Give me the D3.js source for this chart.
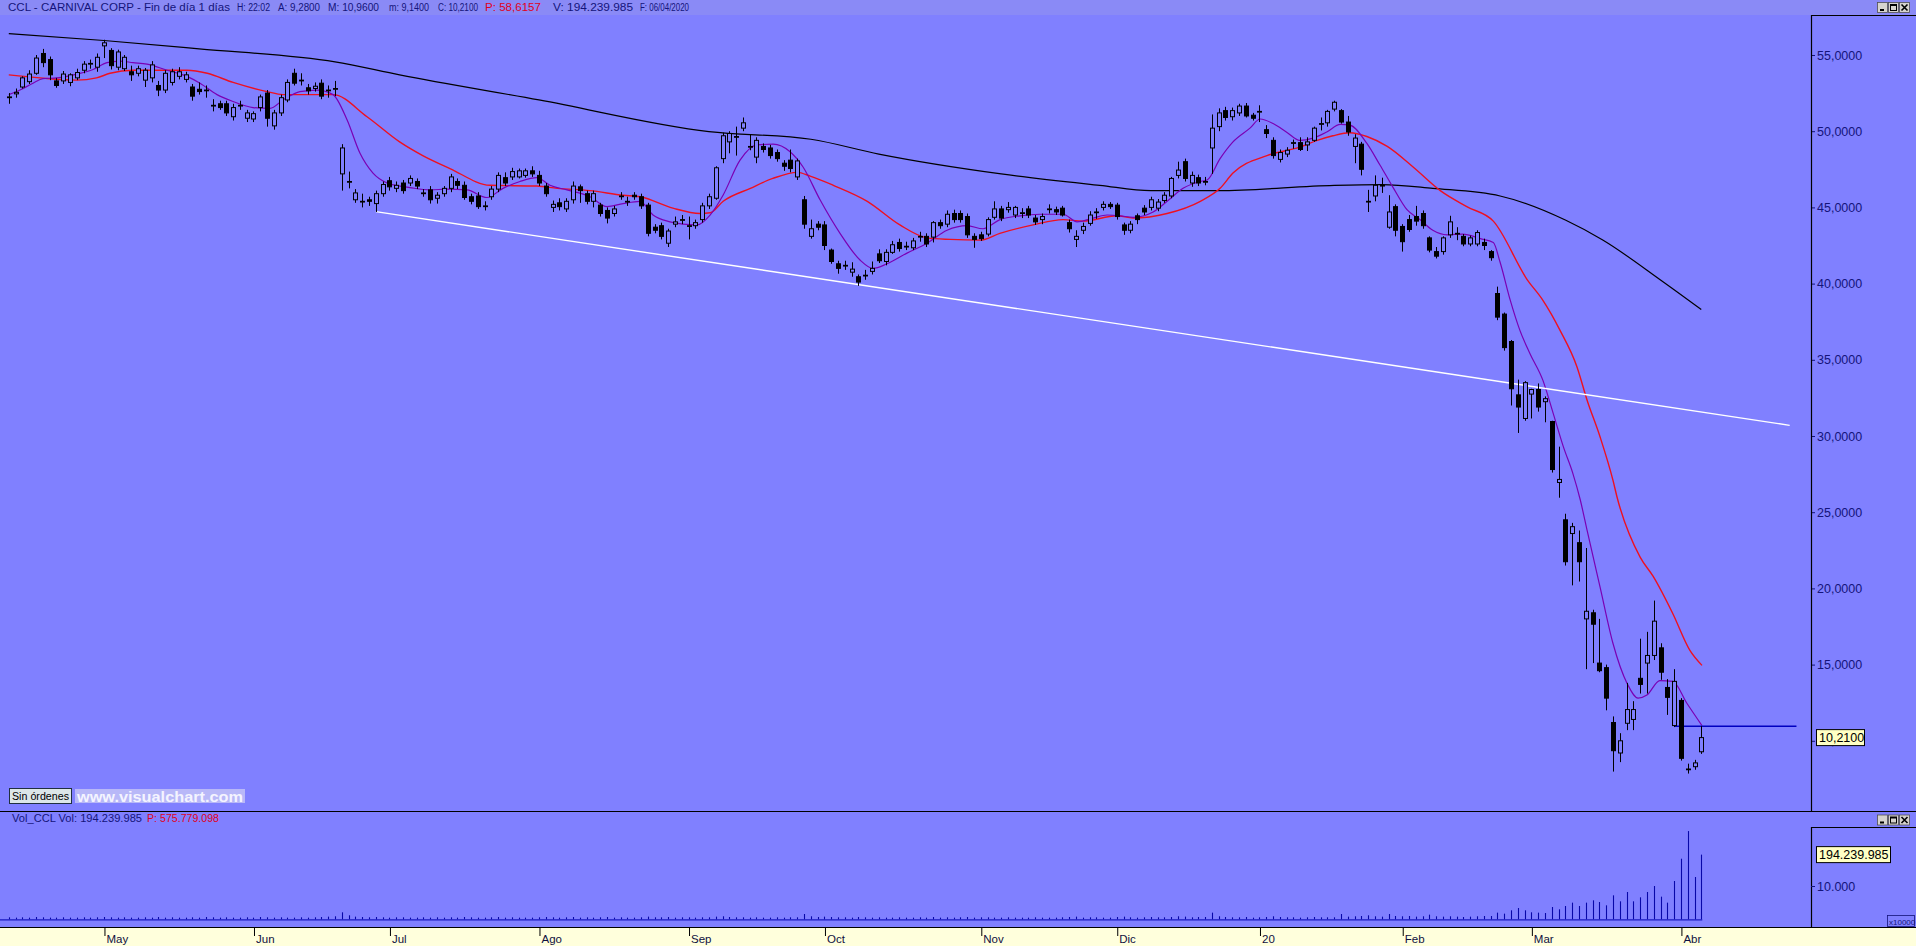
<!DOCTYPE html>
<html><head><meta charset="utf-8">
<script src="https://cdn.jsdelivr.net/npm/d3@7"></script>
<style>
html,body{margin:0;padding:0;background:#8080ff;overflow:hidden}
svg{display:block}
text{font-family:Arial,"Liberation Sans",sans-serif}
</style></head><body>
<svg id="c" width="1916" height="946"></svg>
<script>
// ---------- DATA ----------
const monthLabels = ["May","Jun","Jul","Ago","Sep","Oct","Nov","Dic","20","Feb","Mar","Abr"];
const monthStart  = [14,36,56,78,100,120,143,163,184,205,224,246];
const priceTicks  = [55,50,45,40,35,30,25,20,15,10];
const volTicks = [100];
const volTickLabels = ["10.000"];

const open = [
52.2,52.45,52.9,53.25,53.8,55.1,54.7,53.3,53.3,53.2,
53.5,54.0,54.4,54.2,55.6,55.3,54.2,54.1,53.9,53.8,
53.35,53.5,53.0,52.7,53.2,53.6,53.4,52.9,52.75,52.65,
51.65,51.8,51.8,50.95,51.65,50.85,50.8,51.55,52.5,50.35,
51.2,52.05,53.8,53.3,52.85,52.8,53.15,52.65,52.75,47.2,
46.65,45.5,45.35,45.5,45.25,45.9,46.75,46.25,46.6,46.6,
46.7,45.9,46.15,45.6,45.9,46.25,46.7,46.45,45.7,45.75,
45.05,45.7,46.2,46.95,47.0,47.0,47.1,47.4,47.1,46.4,
45.0,45.3,44.9,45.5,46.35,45.9,45.4,45.15,44.8,44.6,
45.7,45.35,45.8,45.7,45.15,43.7,43.8,42.65,43.9,44.15,
43.75,43.8,44.2,45.1,45.6,48.2,49.3,49.6,50.2,48.95,
48.3,49.0,48.9,48.6,47.9,48.1,47.0,45.5,43.1,43.9,
43.85,42.2,41.3,41.15,40.75,40.45,40.5,40.8,41.95,41.45,
42.05,42.7,42.4,42.35,43.05,43.1,43.05,44.0,43.9,44.6,
44.6,44.4,43.1,43.2,43.25,44.35,44.9,44.85,44.5,44.6,
44.9,44.3,44.2,44.85,44.85,44.95,44.0,42.9,43.5,43.95,
44.65,45.0,45.2,45.15,43.85,43.5,44.45,44.95,45.0,44.95,
45.45,45.75,47.1,48.0,46.6,46.95,46.65,48.9,50.3,51.35,
50.95,51.2,51.65,51.05,51.25,50.1,49.4,48.15,48.5,49.2,
49.25,49.1,49.4,50.45,50.55,51.45,51.35,50.6,49.0,49.15,
45.35,45.75,46.4,43.7,45.05,43.75,44.2,44.4,44.6,43.0,
42.1,42.1,43.2,43.25,43.1,42.6,42.6,42.7,42.1,39.35,
38.0,36.2,32.7,31.15,32.75,33.05,32.25,30.95,26.95,24.5,
23.6,23.0,18.0,18.4,15.1,14.8,11.2,9.2,11.15,11.4,
14.1,15.1,15.6,16.1,13.5,11.0,12.65,8.1,8.3,9.28
];
const high = [
52.5,52.8,53.6,54.0,55.0,55.4,54.9,53.5,53.95,53.8,
54.1,54.6,54.7,55.1,56.0,55.45,55.35,55.0,54.3,54.3,
54.15,54.6,53.3,54.0,54.1,54.2,53.9,53.1,53.2,53.0,
52.1,52.0,52.0,51.8,52.0,51.4,51.3,52.4,52.7,51.4,
52.4,53.4,54.1,53.8,53.1,53.2,53.4,53.0,53.3,49.15,
47.35,46.2,45.9,45.7,46.1,46.7,47.0,46.7,46.8,47.1,
46.9,46.2,46.4,46.0,46.4,47.2,46.9,46.7,45.9,46.0,
45.4,46.4,47.3,47.3,47.6,47.55,47.55,47.7,47.4,46.6,
45.45,45.6,45.6,46.7,46.5,46.1,46.1,45.3,45.0,45.1,
46.0,45.7,46.0,45.9,45.3,43.9,44.0,43.6,44.4,44.5,
44.4,44.2,45.3,45.9,47.7,49.9,50.0,50.3,50.9,49.75,
49.6,49.2,49.1,48.8,48.1,48.8,48.2,45.75,44.2,44.1,
44.1,42.3,41.5,41.5,41.4,40.6,40.9,41.45,42.25,42.25,
42.8,42.95,42.75,43.0,43.4,43.3,44.1,44.2,44.8,44.85,
44.8,44.6,43.3,43.4,44.35,45.4,45.1,45.35,45.1,44.95,
45.1,44.5,44.6,45.2,45.05,45.1,44.2,43.5,44.0,44.75,
44.95,45.4,45.35,45.3,44.0,44.1,44.6,45.15,45.7,45.55,
46.0,47.0,48.0,48.2,47.35,47.15,47.0,51.1,51.5,51.6,
51.55,51.8,51.85,51.2,51.7,50.4,49.6,48.8,48.95,49.45,
49.6,49.6,50.3,50.9,51.4,52.0,51.45,51.0,49.8,49.3,
46.15,47.1,46.95,45.8,45.2,43.9,44.5,45.1,44.8,43.1,
42.4,43.1,44.45,43.7,43.25,43.15,43.5,42.95,42.2,39.8,
38.1,36.3,33.7,33.6,33.1,33.45,32.6,31.0,29.3,24.9,
24.3,23.8,22.65,18.6,18.0,15.0,11.6,10.5,13.8,12.6,
16.7,17.15,19.2,16.4,14.05,14.7,12.8,8.5,8.75,10.96
];
const low = [
51.8,52.2,52.8,53.1,53.7,54.2,53.35,52.85,53.1,52.95,
53.35,53.8,54.1,53.9,54.8,54.05,54.0,53.95,53.3,53.6,
52.9,53.2,52.3,52.5,53.0,53.4,53.2,52.0,52.4,52.2,
51.3,51.4,51.0,50.7,51.4,50.6,50.6,51.3,50.3,50.1,
51.0,51.9,53.0,53.0,52.4,52.6,52.1,52.2,52.3,46.1,
46.25,45.3,45.0,45.1,44.7,45.7,46.1,46.0,45.9,46.4,
46.2,45.7,45.25,45.25,45.7,46.0,46.2,45.5,45.2,44.9,
44.8,45.5,46.0,46.4,46.8,46.9,46.95,47.0,46.4,45.7,
44.7,44.8,44.7,45.25,45.3,45.2,45.0,44.4,43.95,44.4,
45.5,45.1,45.5,44.9,43.1,43.3,42.9,42.4,43.7,43.9,
42.9,43.6,44.0,44.9,45.5,47.9,48.55,48.4,50.0,48.75,
47.9,48.6,48.2,48.0,47.4,47.3,46.8,43.6,42.95,43.5,
42.2,41.3,40.65,40.9,40.45,39.85,40.25,40.6,41.35,41.2,
41.95,42.1,42.2,42.2,42.75,42.4,42.7,43.6,43.7,44.0,
44.0,43.0,42.35,42.8,43.1,44.2,44.1,44.65,44.3,44.3,
44.3,43.85,43.9,44.6,44.5,44.4,43.35,42.4,43.25,43.8,
44.25,44.8,44.9,44.2,43.2,43.3,43.9,44.5,44.8,44.75,
45.3,45.6,46.9,46.7,46.35,46.4,46.45,47.2,50.0,50.7,
50.7,51.0,50.9,50.7,50.6,49.55,48.2,47.95,48.3,48.85,
48.7,48.7,49.3,50.05,50.3,51.3,50.5,49.7,47.9,47.1,
44.7,45.4,45.95,43.6,43.1,42.1,43.4,43.8,43.6,42.05,
41.65,41.9,43.0,42.85,42.45,42.45,42.45,42.2,41.5,37.6,
35.6,32.0,30.2,31.0,31.15,31.6,30.9,27.6,25.95,21.5,
20.2,20.45,14.7,15.1,14.5,12.0,7.98,8.6,10.7,10.7,
13.1,13.1,15.3,14.0,11.7,10.9,8.7,7.85,8.1,9.14
];
const close = [
52.25,52.55,53.5,53.75,54.8,54.5,53.7,53.0,53.75,53.7,
53.85,54.4,54.45,54.85,55.8,54.3,55.2,54.85,53.7,54.1,
54.0,54.35,52.7,53.8,53.9,53.9,53.7,52.3,52.6,52.7,
51.7,51.55,51.2,51.55,51.7,51.2,51.15,52.25,50.85,51.2,
52.2,53.2,53.15,53.35,52.65,52.95,52.3,52.7,52.8,48.9,
46.7,45.95,45.4,45.4,45.9,46.5,46.35,46.45,46.1,46.9,
46.4,45.95,45.5,45.8,46.25,47.0,46.45,45.65,45.4,45.05,
45.1,46.2,47.1,46.6,47.35,47.4,47.4,47.2,46.6,45.9,
45.2,45.05,45.4,46.4,46.1,45.4,45.9,44.6,44.3,44.9,
45.75,45.4,45.7,45.1,43.3,43.5,43.1,43.45,44.05,44.2,
43.8,44.0,45.1,45.7,47.6,49.7,49.85,49.65,50.55,49.0,
49.4,48.8,48.4,48.2,47.7,47.55,48.05,43.9,43.6,43.7,
42.5,41.45,41.0,41.2,40.95,40.1,40.55,41.0,41.5,42.05,
42.55,42.3,42.45,42.8,43.1,42.6,44.0,43.8,44.55,44.2,
44.2,43.2,42.9,42.95,44.2,44.9,44.3,45.0,45.0,44.65,
44.5,44.05,44.4,44.9,44.7,44.5,43.6,43.1,43.75,44.5,
44.7,45.2,45.05,44.4,43.5,43.9,44.2,44.7,45.5,45.35,
45.8,46.9,47.45,46.9,47.1,46.6,46.7,50.2,51.2,50.9,
51.35,51.65,51.0,50.85,51.3,49.85,48.4,48.6,48.75,49.25,
48.8,49.3,50.2,50.5,51.3,51.9,50.6,49.95,49.55,47.5,
45.4,46.45,46.45,44.7,43.5,42.75,43.55,44.1,43.8,42.2,
41.8,43.0,44.05,43.3,42.6,43.0,43.35,42.5,41.7,37.8,
35.8,33.1,31.9,33.5,33.05,31.9,32.45,27.8,27.15,21.75,
24.05,21.75,18.5,17.65,14.6,12.8,9.35,10.0,12.05,12.05,
13.7,15.6,17.85,14.5,12.85,13.9,8.85,8.15,8.55,10.21
];
// volume in millions of shares
const volume = [
6,5,6,5,7,6,5,5,6,5,
5,6,5,6,7,6,5,6,5,5,
6,5,7,5,6,5,5,6,5,7,
6,5,6,5,5,6,5,7,6,5,
6,5,5,6,5,6,7,8,9,21,
12,8,7,6,7,6,5,6,6,5,
5,6,5,6,5,6,5,7,6,5,
5,6,7,5,6,5,5,5,6,7,
6,5,6,7,5,6,5,6,7,5,
6,5,5,6,8,6,6,7,5,6,
6,5,6,6,8,9,7,6,6,5,
6,5,5,6,5,6,6,16,9,7,
8,7,6,6,5,7,6,5,6,5,
5,6,5,5,6,5,7,5,6,5,
6,7,5,6,6,5,5,6,5,5,
5,6,5,5,5,6,7,8,5,6,
6,5,5,7,8,6,5,6,7,6,
6,7,9,8,6,7,7,20,9,7,
6,6,7,5,6,7,9,7,6,6,
5,6,7,6,6,6,16,8,9,10,
12,9,8,16,10,9,10,8,9,14,
9,8,9,8,7,8,9,10,10,20,
17,27,34,27,21,20,19,37,30,40,
50,40,50,57,52,42,72,54,82,54,
66,82,100,68,50,115,182,265,127,194.24
];
// long moving average (black), read at sample positions
const ma200Idx = [0,14,28,48,57.5,78,103,118,128,146,160.5,168,178,195,202,209.5,219.4,229,234.5,243,249];
const ma200    = [56.4,55.95,55.4,54.55,53.7,52.05,49.97,49.47,48.5,47.2,46.45,46.1,46.1,46.45,46.5,46.25,45.75,44.17,42.86,40.24,38.3];
// medium moving average (red)
const maRedIdx = [0,4.6,10,12.9,14.9,18.3,23.3,26.2,29.2,33,38,40.3,47.7,52.7,57.5,60.9,64.9,70.8,77.7,80.7,85.5,90.4,92.9,97.7,101.7,103.2,105.1,109.1,112.4,116,117.9,121.3,126.3,131.1,135.1,138.5,142.9,145.8,150.7,155.1,158,163,165.4,170.4,175.3,178.2,180.1,185.1,189.9,192.5,194.8,197.3,199.8,202.8,206.6,210.6,214.5,218.4,223.4,225.7,228.2,230.7,232.2,234.1,236,236.6,240,241.9,244.8,247.3,249.1];
const maRed    = [53.7,53.5,53.35,53.5,53.8,54.0,54.0,54.0,53.8,53.2,52.6,52.4,52.4,50.95,49.3,48.4,47.55,46.45,46.4,46.25,46.1,45.8,45.7,44.95,44.6,44.65,45.4,46.25,46.9,47.3,47.05,46.45,45.4,43.85,43.0,42.9,42.85,43.3,43.85,44.2,44.1,44.45,44.3,44.6,45.4,46.25,47.25,48.4,48.95,49.4,49.7,49.9,49.65,49.0,47.65,46.1,45.05,44.1,40.25,38.9,36.95,34.55,32.35,29.95,27.1,26.0,22.05,20.8,18.35,15.95,14.95];
// short moving average (purple)
const maPurIdx = [0,1.65,3.56,5.03,7.09,10.03,12.39,14.45,16.36,18.27,20.33,23.27,26.22,28.13,30.63,32.98,35.93,38.43,40.34,42.84,45.34,47.7,49.76,51.67,53.58,55.64,57.55,59,61.97,64.47,67.41,70.35,72.71,75.21,77.71,79.62,82.12,85.51,88.01,90.36,92.86,94.78,97.28,99.19,101.25,103.17,105.08,107.58,110.08,112.44,114.94,116.85,119.35,122.29,125.23,127.14,129.2,132.14,135.08,138.03,140.97,143.33,145.83,148.77,151.72,155.1,157.16,159.52,161.58,163.49,165.4,168.35,170.41,172.76,175.26,176.3,178.2,180.1,182.6,184.1,186,188.1,189.9,191.9,193.9,195.9,197.3,199.8,201.7,203.6,205.7,207.6,209.5,211.6,213.9,216.5,218.4,219.4,220.9,222.3,223.8,225.7,227.2,228.7,230.1,231.2,232.2,234.1,236,238.1,239.7,241,242.9,244.8,246.9,249.1];
const maPur    = [52.4,52.7,53.15,53.45,53.5,53.75,54.05,54.5,54.6,54.5,54.4,54.0,53.6,53.15,52.4,51.95,51.55,51.5,52.05,52.6,52.7,52.4,50.75,48.55,47.25,46.6,46.4,46.3,46.15,46.2,46.15,45.65,46.25,46.7,46.95,46.45,46.15,45.7,45.05,45.25,45.4,44.5,44.05,43.9,43.85,44.5,45.8,48.1,49.1,49.15,48.65,47.65,45.5,43.3,41.55,41.0,41.3,42.0,42.65,43.5,43.8,43.6,44.2,44.45,44.55,44.55,44.05,44.3,44.5,44.45,44.35,44.7,45.4,46.25,46.7,46.8,48.2,49.3,50.2,50.8,50.5,49.9,49.4,49.55,49.95,50.45,50.4,49.2,47.8,46.35,44.85,44.2,43.5,43.2,43.25,42.95,42.7,41.4,38.9,36.95,35.4,33.65,31.5,29.3,27.55,25.8,23.8,20.1,16.4,13.75,12.8,13.0,13.95,13.9,12.45,11.0];
// hand-drawn trend line (white) and horizontal level (blue)
const trendIdx = [54, 262];
const trendVal = [44.72, 30.7];
const levelIdx = [245, 263];
const levelVal = [10.96, 10.96];
const lastClose = 10.21;
const lastVolume = 194.239985;

// ---------- CHART ----------
const W = 1916, H = 946, BG = '#8080ff', NAVY = '#14147a';
const AX = 1811;               // right axis line
const svg = d3.select('#c');
svg.append('rect').attr('width', W).attr('height', H).attr('fill', BG);

const x  = d3.scaleLinear().domain([0, 249]).range([8.8, 1701.3]);
const y  = d3.scaleLinear().domain([10, 55]).range([740.8, 55]);
const yv = d3.scaleLinear().domain([0, 100]).range([919.3, 886]);

// title bar
svg.append('rect').attr('x', 0).attr('y', 0).attr('width', W).attr('height', 15).attr('fill', '#8a8af6');
const tg = svg.append('g').attr('font-size', 10).attr('fill', NAVY);
[["CCL - CARNIVAL CORP - Fin de día 1 días", 8, 222, NAVY],
 ["H: 22:02", 237, 33, NAVY], ["A: 9,2800", 278, 42, NAVY], ["M: 10,9600", 328, 51, NAVY],
 ["m: 9,1400", 389, 40, NAVY], ["C: 10,2100", 438, 40, NAVY], ["P: 58,6157", 485, 56, '#e00020'],
 ["V: 194.239.985", 553, 80, NAVY], ["F: 06/04/2020", 640, 49, NAVY]]
 .forEach(p => tg.append('text').attr('x', p[1]).attr('y', 11).attr('fill', p[3])
   .attr('textLength', p[2]).attr('lengthAdjust', 'spacingAndGlyphs').text(p[0]));

// clip for price panel
const defs = svg.append('defs');
defs.append('clipPath').attr('id', 'pc').append('rect').attr('x', 0).attr('y', 16).attr('width', AX).attr('height', 794);
const pg = svg.append('g').attr('clip-path', 'url(#pc)');

const lineGen = (xs, vs) => d3.line().x((d, i) => x(xs[i])).y((d, i) => y(vs[i])).curve(d3.curveMonotoneX)(vs);

pg.append('path').attr('d', lineGen(ma200Idx, ma200)).attr('fill', 'none').attr('stroke', '#000').attr('stroke-width', 1.2);
pg.append('path').attr('d', lineGen(maRedIdx, maRed)).attr('fill', 'none').attr('stroke', '#ee1020').attr('stroke-width', 1.4);
pg.append('path').attr('d', lineGen(maPurIdx, maPur)).attr('fill', 'none').attr('stroke', '#7a00b4').attr('stroke-width', 1.2);
pg.append('path').attr('d', d3.line().x((d, i) => x(trendIdx[i])).y(d => y(d))(trendVal)).attr('fill', 'none').attr('stroke', '#ffffff').attr('stroke-width', 1.4);
pg.append('path').attr('d', d3.line().x((d, i) => x(levelIdx[i])).y(d => y(d))(levelVal)).attr('fill', 'none').attr('stroke', '#0000c0').attr('stroke-width', 1.5);

// candles
const idx = d3.range(close.length);
const cg = pg.append('g');
cg.selectAll('line.w').data(idx).join('line')
  .attr('x1', i => Math.round(x(i)) + 0.5).attr('x2', i => Math.round(x(i)) + 0.5)
  .attr('y1', i => y(high[i])).attr('y2', i => y(low[i]))
  .attr('stroke', '#000').attr('stroke-width', 1);
cg.selectAll('rect.b').data(idx).join('rect')
  .attr('x', i => Math.round(x(i)) - 1.5)
  .attr('width', 4)
  .attr('y', i => y(Math.max(open[i], close[i])))
  .attr('height', i => Math.max(0.1, y(Math.min(open[i], close[i])) - y(Math.max(open[i], close[i]))))
  .attr('fill', i => close[i] >= open[i] ? BG : '#000')
  .attr('stroke', '#000').attr('stroke-width', 1);

// price axis
const pa = svg.append('g').attr('transform', `translate(${AX},0)`)
  .call(d3.axisRight(y).tickValues(priceTicks).tickSize(4).tickPadding(2)
    .tickFormat(d => d3.format('.4f')(d).replace('.', ',')));
pa.select('.domain').remove();
pa.selectAll('line').attr('stroke', NAVY);
pa.selectAll('text').attr('font-size', 12.5).attr('fill', NAVY).attr('font-family', 'Arial, Liberation Sans, sans-serif');

// frame lines
const fr = svg.append('g').attr('stroke', '#000').attr('stroke-width', 1.2);
fr.append('line').attr('x1', AX + 0.5).attr('x2', AX + 0.5).attr('y1', 15).attr('y2', 811);
fr.append('line').attr('x1', AX).attr('x2', W).attr('y1', 15.5).attr('y2', 15.5);
fr.append('line').attr('x1', 0).attr('x2', W).attr('y1', 811.5).attr('y2', 811.5);
fr.append('line').attr('x1', AX + 0.5).attr('x2', AX + 0.5).attr('y1', 827).attr('y2', 927);
fr.append('line').attr('x1', AX).attr('x2', W).attr('y1', 827.5).attr('y2', 827.5);
fr.append('line').attr('x1', 0).attr('x2', W).attr('y1', 927.5).attr('y2', 927.5);

// last price box
const pb = svg.append('g');
pb.append('rect').attr('x', 1816.5).attr('y', y(lastClose) - 8).attr('width', 48).attr('height', 16)
  .attr('fill', '#ffffc4').attr('stroke', '#000').attr('stroke-width', 1);
pb.append('text').attr('x', 1819).attr('y', y(lastClose) + 4.5).attr('font-size', 12.5).attr('fill', '#000')
  .text(d3.format('.4f')(lastClose).replace('.', ','));

// window buttons
function winButtons(y0) {
  const g = svg.append('g');
  [1877, 1888, 1899].forEach((bx, k) => {
    g.append('rect').attr('x', bx + 0.5).attr('y', y0 + 0.5).attr('width', 10).attr('height', 10)
      .attr('fill', '#d6d3ce').attr('stroke', '#505050').attr('stroke-width', 0.8);
    if (k === 0) g.append('rect').attr('x', bx + 3).attr('y', y0 + 7).attr('width', 4).attr('height', 2).attr('fill', '#000');
    if (k === 1) { g.append('rect').attr('x', bx + 2.5).attr('y', y0 + 2.5).attr('width', 6).attr('height', 6).attr('fill', 'none').attr('stroke', '#000');
                   g.append('rect').attr('x', bx + 2.5).attr('y', y0 + 2.5).attr('width', 6).attr('height', 1.5).attr('fill', '#000'); }
    if (k === 2) { g.append('path').attr('d', `M${bx+2.5},${y0+2.5}L${bx+8.5},${y0+8.5}M${bx+8.5},${y0+2.5}L${bx+2.5},${y0+8.5}`).attr('stroke', '#000').attr('stroke-width', 1.6); }
  });
}
winButtons(2);
winButtons(814.5);

// "Sin órdenes" + watermark
svg.append('rect').attr('x', 9.5).attr('y', 788.5).attr('width', 62).attr('height', 15)
  .attr('fill', '#dce6e8').attr('stroke', '#203040').attr('stroke-width', 1);
svg.append('text').attr('x', 12).attr('y', 800).attr('font-size', 10).attr('fill', '#000')
  .attr('textLength', 57).attr('lengthAdjust', 'spacingAndGlyphs').text('Sin órdenes');
svg.append('rect').attr('x', 75).attr('y', 789).attr('width', 170).attr('height', 14).attr('fill', '#b8b8f8');
svg.append('text').attr('x', 77).attr('y', 801.5).attr('font-size', 15).attr('font-weight', 'bold').attr('fill', '#f4f4ff')
  .attr('textLength', 166).attr('lengthAdjust', 'spacingAndGlyphs').text('www.visualchart.com');

// volume panel
const vg = svg.append('g').attr('font-size', 10);
vg.append('text').attr('x', 12).attr('y', 822).attr('fill', NAVY).attr('textLength', 130).attr('lengthAdjust', 'spacingAndGlyphs').text('Vol_CCL  Vol: 194.239.985');
vg.append('text').attr('x', 147).attr('y', 822).attr('fill', '#e00020').attr('textLength', 72).attr('lengthAdjust', 'spacingAndGlyphs').text('P: 575.779.098');

svg.append('line').attr('x1', 0).attr('x2', x(249) + 1).attr('y1', yv(0) + 0.5).attr('y2', yv(0) + 0.5)
  .attr('stroke', '#1818c0').attr('stroke-width', 1.2);
svg.append('g').selectAll('line').data(idx).join('line')
  .attr('x1', i => Math.round(x(i)) + 0.5).attr('x2', i => Math.round(x(i)) + 0.5)
  .attr('y1', yv(0)).attr('y2', i => yv(volume[i]))
  .attr('stroke', '#0808a8').attr('stroke-width', 1.1);

const va = svg.append('g').attr('transform', `translate(${AX},0)`)
  .call(d3.axisRight(yv).tickValues(volTicks).tickSize(4).tickPadding(2).tickFormat((d, i) => volTickLabels[i]));
va.select('.domain').remove();
va.selectAll('line').attr('stroke', NAVY);
va.selectAll('text').attr('font-size', 12.5).attr('fill', NAVY).attr('font-family', 'Arial, Liberation Sans, sans-serif');

svg.append('rect').attr('x', 1816.5).attr('y', yv(lastVolume) - 8).attr('width', 74).attr('height', 16)
  .attr('fill', '#ffffc4').attr('stroke', '#000').attr('stroke-width', 1);
svg.append('text').attr('x', 1819).attr('y', yv(lastVolume) + 4.5).attr('font-size', 12.5).attr('fill', '#000').text('194.239.985');

svg.append('rect').attr('x', 1887.5).attr('y', 915.5).attr('width', 27).attr('height', 11).attr('fill', 'none').attr('stroke', NAVY).attr('stroke-width', 0.8);
svg.append('text').attr('x', 1889).attr('y', 924.5).attr('font-size', 8).attr('fill', NAVY).text('x10000');

// date axis band
svg.append('rect').attr('x', 0).attr('y', 928).attr('width', W).attr('height', 18).attr('fill', '#ffffdc');
const da = svg.append('g').attr('transform', 'translate(0,928)')
  .call(d3.axisBottom(x).tickValues(monthStart).tickSize(8).tickFormat((d, i) => monthLabels[i]));
da.select('.domain').remove();
da.selectAll('line').attr('stroke', '#000').attr('transform', 'translate(0.5,0)');
da.selectAll('text').attr('font-size', 11.5).attr('fill', '#101040').attr('text-anchor', 'start')
  .attr('x', 2).attr('y', 15).attr('dy', 0).attr('font-family', 'Arial, Liberation Sans, sans-serif');
</script>
</body></html>
